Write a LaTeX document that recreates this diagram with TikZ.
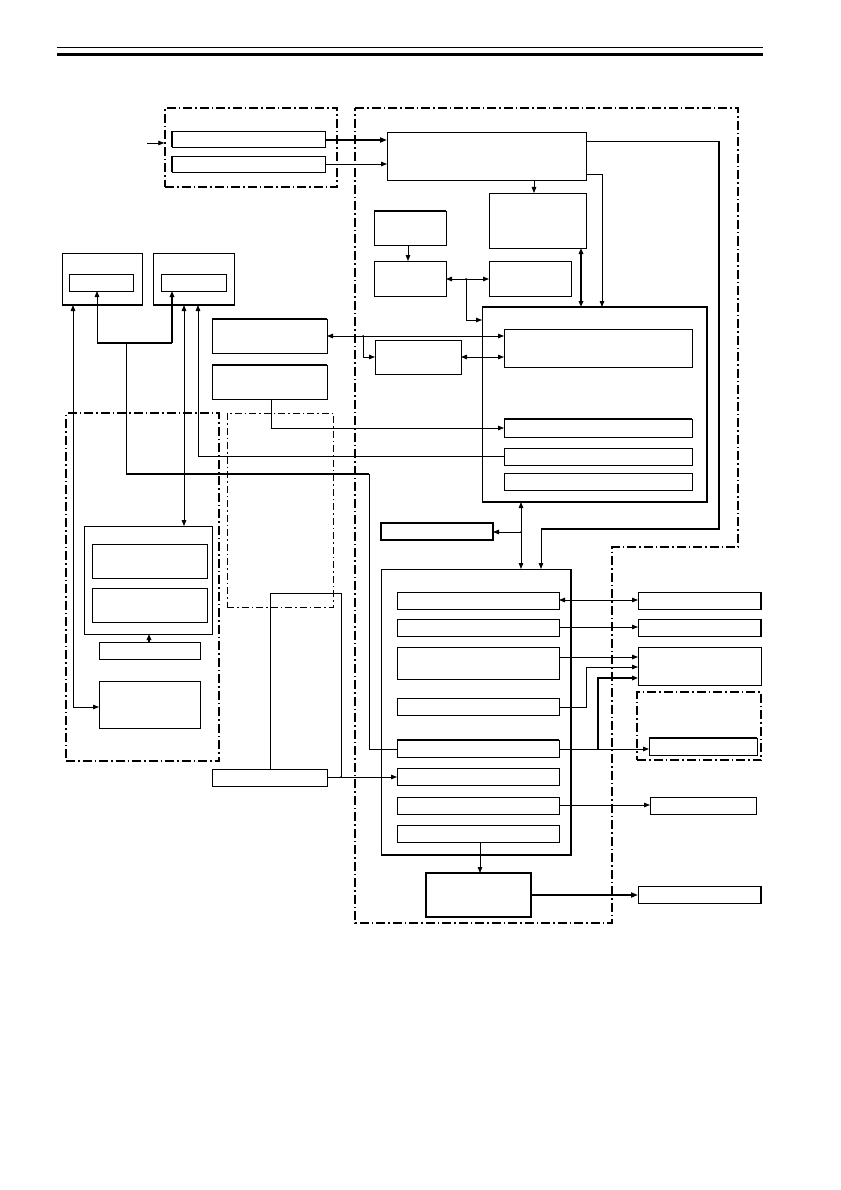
\documentclass[tikz,border=0pt]{standalone}
\usetikzlibrary{arrows.meta,fit}
\begin{document}
\begin{tikzpicture}[x=1pt,y=-1pt,
  bx/.style={draw, line width=0.8pt, inner sep=0pt, outer sep=0pt},
  ln/.style={line width=0.8pt},
  thk/.style={line width=2.2pt},
  dd/.style={draw, line width=1.4pt, dash pattern=on 9pt off 3pt on 1.5pt off 3pt, inner sep=0pt},
  ddthin/.style={draw, line width=0.8pt, dash pattern=on 7pt off 3pt on 1.5pt off 3pt, inner sep=0pt},
  arr/.style={ln, -{Triangle[length=6pt,width=4.5pt]}},
  darr/.style={ln, {Triangle[length=6pt,width=4.5pt]}-{Triangle[length=6pt,width=4.5pt]}},
  jdot/.style={fill, circle, inner sep=0pt, minimum size=2pt}]
\newcommand\bx[6][]{\node[bx,fit={(#3,#4) (#5,#6)},#1] (#2) {};}
\useasboundingbox (0,0) rectangle (840,1190);
\fill[white] (0,0) rectangle (840,1190);
% header rules
\draw[line width=0.8pt] (57,47) -- (763,47);
\draw[line width=3pt] (57,54.5) -- (763,54.5);
% dash-dot regions
\node[dd,fit={(165,108) (337,187)}] (DA) {};
\draw[line width=1.4pt, dash pattern=on 9pt off 3pt on 1.5pt off 3pt] (355,108) -- (738,108) -- (738,547) -- (612,547) -- (612,923) -- (355,923) -- cycle;
\node[dd,fit={(66,413) (219,761)}] (Q) {};
\node[ddthin,fit={(227,413) (333,607)}] (Q2) {};
\node[dd,fit={(637,692) (761,760)}] (R4) {};
% boxes
\bx{A1}{172}{131}{325}{147}
\bx{A2}{172}{156}{325}{172}
\bx{B}{387}{132}{586}{180}
\bx{C}{489}{193}{586}{248}
\bx{D}{374}{211}{446}{245}
\bx{E}{374}{261}{446}{296}
\bx{F}{489}{261}{571}{296}
\bx{G}{482}{307}{707}{502}
\bx{G1}{504}{329}{692}{367}
\bx{G2}{504}{419}{692}{437}
\bx{G3}{504}{448}{692}{465}
\bx{G4}{504}{473}{692}{490}
\bx{H}{375}{340}{461}{374}
\bx{I}{212}{319}{327}{353}
\bx{J}{212}{365}{327}{399}
\bx[line width=1.8pt]{K}{381}{523}{493}{540}
\bx{L}{381}{569}{571}{855}
\bx{L1}{397}{592}{559}{609}
\bx{L2}{397}{619}{559}{636}
\bx{L3}{397}{647}{559}{679}
\bx{L4}{397}{698}{559}{715}
\bx{L5}{397}{740}{559}{757}
\bx{L6}{397}{768}{559}{785}
\bx{L7}{397}{797}{559}{814}
\bx{L8}{397}{825}{559}{842}
\bx[line width=1.8pt]{M}{426}{873}{531}{917}
\bx{R1}{638}{592}{761}{609}
\bx{R2}{638}{619}{761}{636}
\bx{R3}{638}{647}{761}{685}
\bx{R5}{649}{738}{757}{755}
\bx{R6}{650}{797}{756}{814}
\bx{R7}{638}{886}{761}{903}
\bx{P1}{62}{253}{142}{305}
\bx{P1i}{69}{274}{133}{291}
\bx{P2}{153}{253}{234}{305}
\bx{P2i}{161}{274}{226}{291}
\bx{S}{84}{526}{212}{634}
\bx{S1}{92}{544}{207}{578}
\bx{S2}{92}{588}{207}{622}
\bx{T}{99}{642}{200}{659}
\bx{U}{99}{681}{200}{728}
\bx{V}{212}{769}{327}{786}
% thick edges
\draw[thk] (A1.north west) -- (A1.south west);
\draw[thk] (A2.north west) -- (A2.south west);
\draw[thk] (D.north west) -- (D.north east);
\draw[thk] (I.north west) -- (I.north east);
\draw[thk] (J.north west) -- (J.north east);
\draw[thk] (G2.north west) -- (G2.north east);
\draw[thk] (L5.north west) -- (L5.north east);
\draw[thk] (R5.north west) -- (R5.north east);
\draw[thk] (L.north east) -- (L.south east) -- (L.south west);
\draw[line width=1.8pt] (G.north west) -- (G.north east) -- (G.south east) -- (G.south west);
\draw[thk] (P1.south west) -- (P1.south east);
\draw[thk] (P2.south west) -- (P2.south east);
\draw[thk] (R1.north east) -- (R1.south east);
\draw[thk] (R2.north east) -- (R2.south east);
\draw[thk] (R7.north east) -- (R7.south east);
% helper coordinates
\coordinate (in) at (147,143);
\coordinate (x73) at (73,0); \coordinate (x97) at (97,0); \coordinate (x126) at (126,0);
\coordinate (x149) at (149,0); \coordinate (x172) at (172,0); \coordinate (x184) at (184,0);
\coordinate (x198) at (198,0); \coordinate (x270) at (270,0); \coordinate (x271) at (271,0);
\coordinate (x408) at (408,0); \coordinate (x480) at (480,0); \coordinate (x521) at (521,0);
\coordinate (x534) at (534,0); \coordinate (x541) at (541,0); \coordinate (x581) at (581,0);
\coordinate (x602) at (602,0);
\coordinate (y140) at (0,140); \coordinate (y141) at (0,141); \coordinate (y164) at (0,164);
\coordinate (y174) at (0,174); \coordinate (y279) at (0,279); \coordinate (y320) at (0,320);
\coordinate (y336) at (0,336); \coordinate (y357) at (0,357); \coordinate (y428) at (0,428);
\coordinate (y456) at (0,456); \coordinate (y532) at (0,532); \coordinate (y600) at (0,600);
\coordinate (y627) at (0,627); \coordinate (y657) at (0,657); \coordinate (y667) at (0,667);
\coordinate (y678) at (0,678); \coordinate (y707) at (0,707); \coordinate (y749) at (0,749);
\coordinate (y777) at (0,777); \coordinate (y805) at (0,805); \coordinate (y895) at (0,895);
% connectors
\draw[arr] (in) -- (in -| DA.west);
\draw[arr, line width=2.2pt, -{Triangle[length=7pt,width=5pt]}] (A1.east |- y140) -- (B.west |- y140);
\draw[arr] (A2.east |- y164) -- (B.west |- y164);
\draw[arr] (B.south -| x534) -- (C.north -| x534);
\draw[ln] (B.east |- y141) -- (719,141);
\draw[thk] (719,141) -- (719,529) -- (541,529);
\draw[arr] (541,529) -- (L.north -| x541);
\draw[arr] (B.east |- y174) -- (602,174) -- (G.north -| x602);
\draw[darr, line width=2pt] (C.south -| x581) -- (G.north -| x581);
\draw[arr] (D.south -| x408) -- (E.north -| x408);
\draw[darr] (E.east |- y279) -- (F.west |- y279);
\draw[arr] (466,279) -- (466,320) -- (G.west |- y320);
\node[jdot] (j1) at (466,279) {};
\draw[darr] (I.east |- y336) -- (G1.west |- y336);
\draw[arr] (363,336) -- (363,357) -- (H.west |- y357);
\node[jdot] (j2) at (363,336) {};
\draw[darr] (H.east |- y357) -- (G1.west |- y357);
\draw[arr] (J.south -| x271) -- (271,428) -- (G2.west |- y428);
\draw[arr] (G3.west |- y456) -- (198,456) -- (P2.south -| x198);
\draw[ln] (L5.west |- y749) -- (369,749) -- (369,474);
\draw[thk] (369,474) -- (126,474);
\draw[ln] (126,474) -- (126,343);
\draw[line width=1.6pt] (97,343) -- (172,343);
\draw[arr] (97,343) -- (P1i.south -| x97);
\draw[arr, line width=1.8pt] (172,343) -- (P2i.south -| x172);
\draw[darr] (P2.south -| x184) -- (S.north -| x184);
\draw[darr] (P1.south -| x73) -- (73,707) -- (U.west |- y707);
\draw[arr, line width=1.8pt] (T.north -| x149) -- (S.south -| x149);
\draw[ln] (V.north -| x270) -- (270,593) -- (341,593) -- (341,777);
\draw[arr] (V.east |- y777) -- (L6.west |- y777);
\node[jdot] (j3) at (341,777) {};
\draw[darr] (L1.east |- y600) -- (R1.west |- y600);
\draw[arr] (L2.east |- y627) -- (R2.west |- y627);
\draw[arr] (L3.east |- y657) -- (R3.west |- y657);
\draw[arr] (L4.east |- y707) -- (586,707) -- (586,667) -- (R3.west |- y667);
\draw[arr] (L5.east |- y749) -- (R5.west |- y749);
\draw[arr, line width=1.6pt] (598,749) -- (598,678) -- (R3.west |- y678);
\node[jdot] (j4) at (598,749) {};
\draw[arr] (L7.east |- y805) -- (R6.west |- y805);
\draw[arr] (L8.south -| x480) -- (M.north -| x480);
\draw[arr, line width=2.2pt, -{Triangle[length=7pt,width=5pt]}] (M.east |- y895) -- (R7.west |- y895);
\draw[darr] (G.south -| x521) -- (L.north -| x521);
\draw[arr] (521,532) -- (K.east |- y532);
\node[jdot] (j5) at (521,532) {};
\end{tikzpicture}
\end{document}
